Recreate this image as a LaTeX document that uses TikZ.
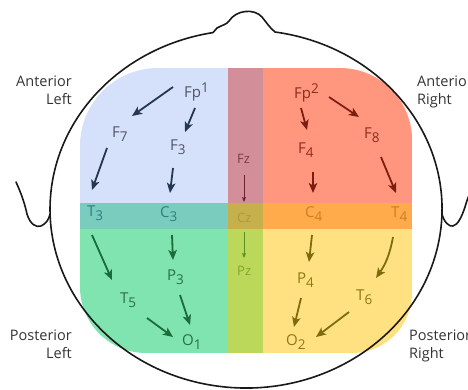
\documentclass[tikz,border=0pt]{standalone}
\usepackage{fontspec}
\setmainfont{Open Sans}
\usetikzlibrary{arrows.meta}

% region fills
\definecolor{regLF}{HTML}{D5E1FB}
\definecolor{regMF}{HTML}{D38F99}
\definecolor{regRF}{HTML}{FF967D}
\definecolor{regLC}{HTML}{7ACDBE}
\definecolor{regMC}{HTML}{C6B04C}
\definecolor{regRC}{HTML}{FFAA4B}
\definecolor{regLP}{HTML}{7FE4AF}
\definecolor{regMP}{HTML}{BCD85A}
\definecolor{regRP}{HTML}{FFE182}
% label and arrow inks
\definecolor{inkLF}{HTML}{4D5566}
\definecolor{arrLF}{HTML}{243650}
\definecolor{inkRF}{HTML}{8A2E1F}
\definecolor{arrRF}{HTML}{7B1D10}
\definecolor{inkMF}{HTML}{7D3B4A}
\definecolor{arrMF}{HTML}{6B2333}
\definecolor{inkLC}{HTML}{2F7E7C}
\definecolor{inkMC}{HTML}{A8983E}
\definecolor{inkRC}{HTML}{CC7E22}
\definecolor{inkLP}{HTML}{2A7045}
\definecolor{arrLP}{HTML}{1B6B3B}
\definecolor{inkMP}{HTML}{7FA434}
\definecolor{arrMP}{HTML}{5C8E22}
\definecolor{inkRP}{HTML}{8C7A12}
\definecolor{arrRP}{HTML}{7D6C0E}
\definecolor{sidetext}{HTML}{333333}

\newcommand\elsub[1]{\raisebox{-4pt}{\fontsize{13.5}{14}\selectfont #1}}
\newcommand\elsup[1]{\raisebox{4.5pt}{\fontsize{13.5}{14}\selectfont #1}}

\begin{document}
\begin{tikzpicture}[x=1pt,y=-1pt,
  electrode/.style={anchor=base west, inner sep=0pt, font=\fontsize{15}{17}\selectfont},
  midlabel/.style={anchor=base west, inner sep=0pt, font=\fontsize{13}{15}\selectfont},
  sidelabel/.style={inner sep=0pt, text=sidetext, font=\fontsize{14.5}{18}\selectfont},
  flow/.style={line width=1.8pt, -{Stealth[length=10pt,width=8.5pt,inset=2.5pt]}},
  thinflow/.style={line width=0.9pt, -{Stealth[length=5pt,width=4pt,inset=1pt]}},
  outline/.style={line width=1.6pt, draw=black!90, line join=round, line cap=round}]

\useasboundingbox (0,0) rectangle (468,389);
\clip (0,0) rectangle (468,389);

% coloured scalp regions inside a rounded frame
\begin{scope}
  \clip (80,210) [rounded corners=78pt] -- (80,68) -- (246,68)
        [rounded corners=72pt] -- (412,68) -- (412,210)
        [rounded corners=60pt] -- (412,353) -- (246,353)
        [rounded corners=66pt] -- (80,353) -- cycle;
  \fill[regLF] (80,68)   rectangle (228,203);
  \fill[regMF] (228,68)  rectangle (263,203);
  \fill[regRF] (263,68)  rectangle (412,203);
  \fill[regLC] (80,203)  rectangle (228,229);
  \fill[regMC] (228,203) rectangle (263,229);
  \fill[regRC] (263,203) rectangle (412,229);
  \fill[regLP] (80,229)  rectangle (228,353);
  \fill[regMP] (228,229) rectangle (263,353);
  \fill[regRP] (263,229) rectangle (412,353);
\end{scope}

% head with nose
\draw[outline] (275,32) arc[start angle=-81.5, end angle=260.3, x radius=196, y radius=179]
  -- (217,28) .. controls (222,25) and (226,25) .. (229,21)
  .. controls (236,10) and (254,8) .. (262,17)
  .. controls (266,22) and (270,28) .. (275,32);
% ears
\draw[outline] (16,182) .. controls (22,195) and (25,205) .. (27,214)
  .. controls (30,224) and (36,228) .. (41,226)
  .. controls (46,224) and (49,219) .. (50,214);
\draw[outline] (442,214) .. controls (444,222) and (449,227) .. (453,226)
  .. controls (458,225) and (462,216) .. (465,207)
  .. controls (467,200) and (470,192) .. (474,184);

% region names (anchored on the baseline of their second line)
\node[sidelabel, anchor=base east, align=right] (antL) at (72,104) {Anterior\\Left};
\node[sidelabel, anchor=base west, align=left] (antR) at (417,104) {Anterior\\Right};
\node[sidelabel, anchor=base east, align=right] (posL) at (72,358) {Posterior\\Left};
\node[sidelabel, anchor=base west, align=left] (posR) at (409,358) {Posterior\\Right};

% left anterior
\node[electrode, text=inkLF] (fp1) at (184,97)  {Fp\elsup{1}};
\node[electrode, text=inkLF] (f7)  at (112,137) {F\elsub{7}};
\node[electrode, text=inkLF] (f3)  at (170,150) {F\elsub{3}};
% central band
\node[electrode, text=inkLC] (t3)  at (87,216)  {T\elsub{3}};
\node[electrode, text=inkLC] (c3)  at (160,217) {C\elsub{3}};
\node[electrode, text=inkRC] (c4)  at (305,217) {C\elsub{4}};
\node[electrode, text=inkRC] (t4)  at (391,217) {T\elsub{4}};
% left posterior
\node[electrode, text=inkLP] (p3)  at (167,280) {P\elsub{3}};
\node[electrode, text=inkLP] (t5)  at (120,303) {T\elsub{5}};
\node[electrode, text=inkLP] (o1)  at (182,345) {O\elsub{1}};
% midline
\node[midlabel, text=inkMF] (fz) at (237,163) {Fz};
\node[midlabel, text=inkMC] (cz) at (237,222) {Cz};
\node[midlabel, text=inkMP] (pz) at (237,275) {Pz};
% right anterior
\node[electrode, text=inkRF] (fp2) at (294,98)  {Fp\elsup{2}};
\node[electrode, text=inkRF] (f8)  at (364,138) {F\elsub{8}};
\node[electrode, text=inkRF] (f4)  at (298,153) {F\elsub{4}};
% right posterior
\node[electrode, text=inkRP] (p4)  at (297,283) {P\elsub{4}};
\node[electrode, text=inkRP] (t6)  at (356,300) {T\elsub{6}};
\node[electrode, text=inkRP] (o2)  at (286,345) {O\elsub{2}};

% propagation arrows
\draw[flow, arrLF] ([shift={(-11,-10)}]fp1.base west) -- ([shift={(20,-21)}]f7.base west);
\draw[flow, arrLF] ([shift={(11,11)}]fp1.base west)   -- ([shift={(15,-18)}]f3.base west);
\draw[flow, arrLF] ([shift={(-5,11)}]f7.base west)    -- ([shift={(5,-26)}]t3.base west);
\draw[flow, arrLF] ([shift={(3,18)}]f3.base west)     -- ([shift={(10,-24)}]c3.base west);

\draw[flow, arrRF] ([shift={(7,10)}]fp2.base west)    -- ([shift={(9,-23)}]f4.base west);
\draw[flow, arrRF] ([shift={(35,-1)}]fp2.base west)   -- ([shift={(-5,-21)}]f8.base west);
\draw[flow, arrRF] ([shift={(15,19)}]f4.base west)    -- ([shift={(8,-24)}]c4.base west);
\draw[flow, arrRF] ([shift={(17,19)}]f8.base west)    -- ([shift={(5,-24)}]t4.base west);

\draw[thinflow, arrMF] ([shift={(7,12)}]fz.base west) -- ([shift={(7,-20)}]cz.base west);
\draw[thinflow, arrMP] ([shift={(7,10)}]cz.base west) -- ([shift={(7,-17)}]pz.base west);

\draw[flow, arrLP] ([shift={(5,19)}]t3.base west)     -- ([shift={(-8,-23)}]t5.base west);
\draw[flow, arrLP] ([shift={(12,18)}]c3.base west)    -- ([shift={(6,-20)}]p3.base west);
\draw[flow, arrLP] ([shift={(13,15)}]p3.base west)    -- ([shift={(8,-20)}]o1.base west);
\draw[flow, arrLP] ([shift={(27,15)}]t5.base west)    -- ([shift={(-9,-8)}]o1.base west);

\draw[flow, arrRP] ([shift={(7,18)}]c4.base west)     -- ([shift={(12,-21)}]p4.base west);
\draw[flow, arrRP] ([shift={(2,20)}]t4.base west)     to[bend left=12] ([shift={(20,-22)}]t6.base west);
\draw[flow, arrRP] ([shift={(4,15)}]p4.base west)     -- ([shift={(8,-18)}]o2.base west);
\draw[flow, arrRP] ([shift={(-7,12)}]t6.base west)    -- ([shift={(30,-8)}]o2.base west);
\end{tikzpicture}
\end{document}
